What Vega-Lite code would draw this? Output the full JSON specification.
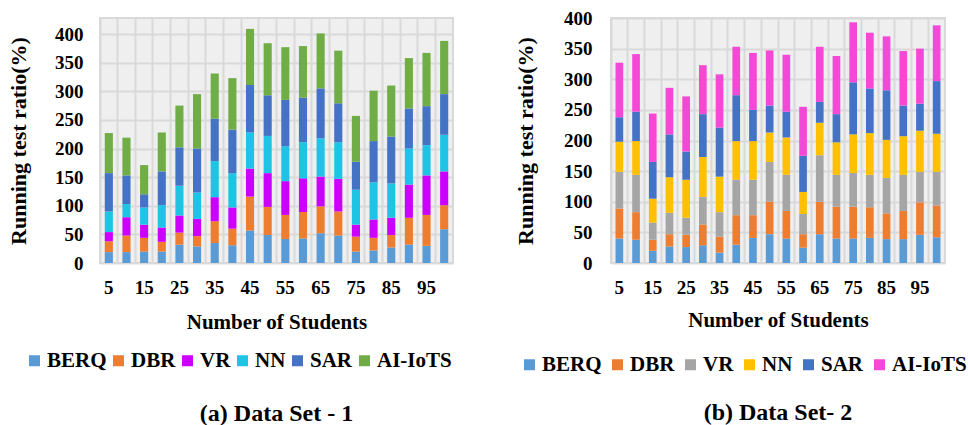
{
"$schema": "https://vega.github.io/schema/vega-lite/v6.json",
"padding": {"left": 6, "top": 8, "right": 0, "bottom": 0},
"background": "white",
"datasets": {
"d1": [
{"n":5,"s":"BERQ","v":19},{"n":5,"s":"DBR","v":19},{"n":5,"s":"VR","v":16},{"n":5,"s":"NN","v":36},{"n":5,"s":"SAR","v":67},{"n":5,"s":"AI-IoTS","v":70},
{"n":10,"s":"BERQ","v":19},{"n":10,"s":"DBR","v":29},{"n":10,"s":"VR","v":32},{"n":10,"s":"NN","v":23},{"n":10,"s":"SAR","v":50},{"n":10,"s":"AI-IoTS","v":66},
{"n":15,"s":"BERQ","v":20},{"n":15,"s":"DBR","v":24},{"n":15,"s":"VR","v":23},{"n":15,"s":"NN","v":30},{"n":15,"s":"SAR","v":23},{"n":15,"s":"AI-IoTS","v":51},
{"n":20,"s":"BERQ","v":20},{"n":20,"s":"DBR","v":17},{"n":20,"s":"VR","v":25},{"n":20,"s":"NN","v":39},{"n":20,"s":"SAR","v":59},{"n":20,"s":"AI-IoTS","v":68},
{"n":25,"s":"BERQ","v":32},{"n":25,"s":"DBR","v":21},{"n":25,"s":"VR","v":30},{"n":25,"s":"NN","v":52},{"n":25,"s":"SAR","v":67},{"n":25,"s":"AI-IoTS","v":73},
{"n":30,"s":"BERQ","v":29},{"n":30,"s":"DBR","v":18},{"n":30,"s":"VR","v":30},{"n":30,"s":"NN","v":46},{"n":30,"s":"SAR","v":77},{"n":30,"s":"AI-IoTS","v":95},
{"n":35,"s":"BERQ","v":35},{"n":35,"s":"DBR","v":38},{"n":35,"s":"VR","v":42},{"n":35,"s":"NN","v":63},{"n":35,"s":"SAR","v":74},{"n":35,"s":"AI-IoTS","v":79},
{"n":40,"s":"BERQ","v":31},{"n":40,"s":"DBR","v":29},{"n":40,"s":"VR","v":37},{"n":40,"s":"NN","v":60},{"n":40,"s":"SAR","v":76},{"n":40,"s":"AI-IoTS","v":90},
{"n":45,"s":"BERQ","v":57},{"n":45,"s":"DBR","v":59},{"n":45,"s":"VR","v":49},{"n":45,"s":"NN","v":63},{"n":45,"s":"SAR","v":83},{"n":45,"s":"AI-IoTS","v":98},
{"n":50,"s":"BERQ","v":49},{"n":50,"s":"DBR","v":49},{"n":50,"s":"VR","v":59},{"n":50,"s":"NN","v":65},{"n":50,"s":"SAR","v":71},{"n":50,"s":"AI-IoTS","v":91},
{"n":55,"s":"BERQ","v":42},{"n":55,"s":"DBR","v":42},{"n":55,"s":"VR","v":59},{"n":55,"s":"NN","v":61},{"n":55,"s":"SAR","v":81},{"n":55,"s":"AI-IoTS","v":92},
{"n":60,"s":"BERQ","v":43},{"n":60,"s":"DBR","v":46},{"n":60,"s":"VR","v":59},{"n":60,"s":"NN","v":63},{"n":60,"s":"SAR","v":78},{"n":60,"s":"AI-IoTS","v":90},
{"n":65,"s":"BERQ","v":52},{"n":65,"s":"DBR","v":47},{"n":65,"s":"VR","v":52},{"n":65,"s":"NN","v":67},{"n":65,"s":"SAR","v":87},{"n":65,"s":"AI-IoTS","v":96},
{"n":70,"s":"BERQ","v":48},{"n":70,"s":"DBR","v":42},{"n":70,"s":"VR","v":57},{"n":70,"s":"NN","v":64},{"n":70,"s":"SAR","v":68},{"n":70,"s":"AI-IoTS","v":92},
{"n":75,"s":"BERQ","v":20},{"n":75,"s":"DBR","v":26},{"n":75,"s":"VR","v":21},{"n":75,"s":"NN","v":61},{"n":75,"s":"SAR","v":49},{"n":75,"s":"AI-IoTS","v":80},
{"n":80,"s":"BERQ","v":22},{"n":80,"s":"DBR","v":22},{"n":80,"s":"VR","v":32},{"n":80,"s":"NN","v":65},{"n":80,"s":"SAR","v":72},{"n":80,"s":"AI-IoTS","v":88},
{"n":85,"s":"BERQ","v":27},{"n":85,"s":"DBR","v":22},{"n":85,"s":"VR","v":30},{"n":85,"s":"NN","v":60},{"n":85,"s":"SAR","v":82},{"n":85,"s":"AI-IoTS","v":89},
{"n":90,"s":"BERQ","v":32},{"n":90,"s":"DBR","v":47},{"n":90,"s":"VR","v":58},{"n":90,"s":"NN","v":63},{"n":90,"s":"SAR","v":70},{"n":90,"s":"AI-IoTS","v":88},
{"n":95,"s":"BERQ","v":30},{"n":95,"s":"DBR","v":54},{"n":95,"s":"VR","v":69},{"n":95,"s":"NN","v":53},{"n":95,"s":"SAR","v":68},{"n":95,"s":"AI-IoTS","v":93},
{"n":100,"s":"BERQ","v":59},{"n":100,"s":"DBR","v":42},{"n":100,"s":"VR","v":59},{"n":100,"s":"NN","v":64},{"n":100,"s":"SAR","v":71},{"n":100,"s":"AI-IoTS","v":93}
],
"d2": [
{"n":5,"s":"BERQ","v":40},{"n":5,"s":"DBR","v":49},{"n":5,"s":"VR","v":60},{"n":5,"s":"NN","v":49},{"n":5,"s":"SAR","v":40},{"n":5,"s":"AI-IoTS","v":89},
{"n":10,"s":"BERQ","v":38},{"n":10,"s":"DBR","v":45},{"n":10,"s":"VR","v":61},{"n":10,"s":"NN","v":55},{"n":10,"s":"SAR","v":48},{"n":10,"s":"AI-IoTS","v":94},
{"n":15,"s":"BERQ","v":20},{"n":15,"s":"DBR","v":18},{"n":15,"s":"VR","v":28},{"n":15,"s":"NN","v":39},{"n":15,"s":"SAR","v":60},{"n":15,"s":"AI-IoTS","v":79},
{"n":20,"s":"BERQ","v":27},{"n":20,"s":"DBR","v":20},{"n":20,"s":"VR","v":35},{"n":20,"s":"NN","v":58},{"n":20,"s":"SAR","v":70},{"n":20,"s":"AI-IoTS","v":76},
{"n":25,"s":"BERQ","v":26},{"n":25,"s":"DBR","v":20},{"n":25,"s":"VR","v":28},{"n":25,"s":"NN","v":62},{"n":25,"s":"SAR","v":46},{"n":25,"s":"AI-IoTS","v":90},
{"n":30,"s":"BERQ","v":29},{"n":30,"s":"DBR","v":34},{"n":30,"s":"VR","v":45},{"n":30,"s":"NN","v":65},{"n":30,"s":"SAR","v":70},{"n":30,"s":"AI-IoTS","v":80},
{"n":35,"s":"BERQ","v":17},{"n":35,"s":"DBR","v":26},{"n":35,"s":"VR","v":40},{"n":35,"s":"NN","v":58},{"n":35,"s":"SAR","v":80},{"n":35,"s":"AI-IoTS","v":87},
{"n":40,"s":"BERQ","v":30},{"n":40,"s":"DBR","v":48},{"n":40,"s":"VR","v":58},{"n":40,"s":"NN","v":63},{"n":40,"s":"SAR","v":75},{"n":40,"s":"AI-IoTS","v":79},
{"n":45,"s":"BERQ","v":41},{"n":45,"s":"DBR","v":37},{"n":45,"s":"VR","v":58},{"n":45,"s":"NN","v":63},{"n":45,"s":"SAR","v":51},{"n":45,"s":"AI-IoTS","v":93},
{"n":50,"s":"BERQ","v":47},{"n":50,"s":"DBR","v":53},{"n":50,"s":"VR","v":65},{"n":50,"s":"NN","v":48},{"n":50,"s":"SAR","v":44},{"n":50,"s":"AI-IoTS","v":90},
{"n":55,"s":"BERQ","v":40},{"n":55,"s":"DBR","v":45},{"n":55,"s":"VR","v":59},{"n":55,"s":"NN","v":61},{"n":55,"s":"SAR","v":42},{"n":55,"s":"AI-IoTS","v":93},
{"n":60,"s":"BERQ","v":25},{"n":60,"s":"DBR","v":22},{"n":60,"s":"VR","v":33},{"n":60,"s":"NN","v":36},{"n":60,"s":"SAR","v":59},{"n":60,"s":"AI-IoTS","v":80},
{"n":65,"s":"BERQ","v":47},{"n":65,"s":"DBR","v":53},{"n":65,"s":"VR","v":76},{"n":65,"s":"NN","v":53},{"n":65,"s":"SAR","v":34},{"n":65,"s":"AI-IoTS","v":90},
{"n":70,"s":"BERQ","v":40},{"n":70,"s":"DBR","v":52},{"n":70,"s":"VR","v":52},{"n":70,"s":"NN","v":53},{"n":70,"s":"SAR","v":46},{"n":70,"s":"AI-IoTS","v":95},
{"n":75,"s":"BERQ","v":40},{"n":75,"s":"DBR","v":52},{"n":75,"s":"VR","v":55},{"n":75,"s":"NN","v":63},{"n":75,"s":"SAR","v":85},{"n":75,"s":"AI-IoTS","v":98},
{"n":80,"s":"BERQ","v":41},{"n":80,"s":"DBR","v":50},{"n":80,"s":"VR","v":53},{"n":80,"s":"NN","v":68},{"n":80,"s":"SAR","v":73},{"n":80,"s":"AI-IoTS","v":91},
{"n":85,"s":"BERQ","v":39},{"n":85,"s":"DBR","v":42},{"n":85,"s":"VR","v":58},{"n":85,"s":"NN","v":62},{"n":85,"s":"SAR","v":81},{"n":85,"s":"AI-IoTS","v":88},
{"n":90,"s":"BERQ","v":39},{"n":90,"s":"DBR","v":46},{"n":90,"s":"VR","v":59},{"n":90,"s":"NN","v":63},{"n":90,"s":"SAR","v":50},{"n":90,"s":"AI-IoTS","v":89},
{"n":95,"s":"BERQ","v":46},{"n":95,"s":"DBR","v":53},{"n":95,"s":"VR","v":50},{"n":95,"s":"NN","v":67},{"n":95,"s":"SAR","v":44},{"n":95,"s":"AI-IoTS","v":90},
{"n":100,"s":"BERQ","v":42},{"n":100,"s":"DBR","v":52},{"n":100,"s":"VR","v":55},{"n":100,"s":"NN","v":62},{"n":100,"s":"SAR","v":86},{"n":100,"s":"AI-IoTS","v":91}
]
},
"config": {
  "font": "Liberation Serif, Times New Roman, serif",
  "view": {"fill": "#efefef", "stroke": "#d9d9d9", "strokeWidth": 2},
  "axis": {
    "labelFont": "Liberation Serif, Times New Roman, serif", "labelFontWeight": "bold", "labelFontSize": 19, "labelColor": "#000000",
    "titleFont": "Liberation Serif, Times New Roman, serif", "titleFontWeight": "bold", "titleFontSize": 21, "titleColor": "#000000",
    "domain": false, "ticks": false, "gridColor": "#d9d9d9", "gridWidth": 2
  },
  "axisY": {"titleFontSize": 22},
  "legend": {
    "labelFont": "Liberation Serif, Times New Roman, serif", "labelFontWeight": "bold", "labelFontSize": 21, "labelColor": "#000000",
    "symbolType": "square", "symbolSize": 121, "symbolStrokeWidth": 0, "symbolOpacity": 1,
    "labelOffset": 2, "columnPadding": 1, "direction": "horizontal", "columns": 6, "orient": "none", "padding": 0
  },
  "title": {"font": "Liberation Serif, Times New Roman, serif", "fontWeight": "bold", "fontSize": 24, "color": "#000000", "orient": "bottom", "anchor": "middle", "offset": 31}
},
"bounds": "flush",
"spacing": 158,
"resolve": {"scale": {"color": "independent"}},
"hconcat": [
  {
    "width": 353, "height": 245,
    "data": {"name": "d1"},
    "transform": [{"window": [{"op": "row_number", "as": "k"}], "groupby": ["n"]}],
    "title": {"text": "(a) Data Set - 1"},
    "mark": {"type": "bar", "width": {"band": 0.46}},
    "encoding": {
      "x": {"field": "n", "type": "ordinal", "scale": {"paddingInner": 0, "paddingOuter": 0},
            "axis": {"labelAngle": 0, "labelExpr": "datum.value % 10 == 5 ? datum.label : ''", "grid": true, "bandPosition": 0,
                     "title": "Number of Students", "labelPadding": 15, "titlePadding": 14}},
      "y": {"field": "v", "type": "quantitative", "stack": "zero", "scale": {"domain": [0, 428], "nice": false},
            "axis": {"values": [0,50,100,150,200,250,300,350,400], "title": "Running test ratio(%)", "labelPadding": 17, "titlePadding": 24}},
      "color": {"field": "s", "type": "nominal",
                "scale": {"domain": ["BERQ","DBR","VR","NN","SAR","AI-IoTS"], "range": ["#5B9BD5","#ED7D31","#CC00FF","#1FC4E4","#4472C4","#70AD47"]},
                "legend": {"title": null, "legendX": -76, "legendY": 332}},
      "order": {"field": "k", "type": "quantitative"}
    }
  },
  {
    "width": 334, "height": 245,
    "data": {"name": "d2"},
    "transform": [{"window": [{"op": "row_number", "as": "k"}], "groupby": ["n"]}],
    "title": {"text": "(b) Data Set- 2", "offset": 26},
    "mark": {"type": "bar", "width": {"band": 0.46}},
    "encoding": {
      "x": {"field": "n", "type": "ordinal", "scale": {"paddingInner": 0, "paddingOuter": 0},
            "axis": {"labelAngle": 0, "labelExpr": "datum.value % 10 == 5 ? datum.label : ''", "grid": true, "bandPosition": 0,
                     "title": "Number of Students", "labelPadding": 15, "titlePadding": 12}},
      "y": {"field": "v", "type": "quantitative", "stack": "zero", "scale": {"domain": [0, 400], "nice": false},
            "axis": {"values": [0,50,100,150,200,250,300,350,400], "title": "Running test ratio(%)", "labelPadding": 19, "titlePadding": 26}},
      "color": {"field": "s", "type": "nominal",
                "scale": {"domain": ["BERQ","DBR","VR","NN","SAR","AI-IoTS"], "range": ["#5B9BD5","#ED7D31","#A5A5A5","#FFC000","#4472C4","#F548D6"]},
                "legend": {"title": null, "legendX": -92, "legendY": 336, "columnPadding": 5}},
      "order": {"field": "k", "type": "quantitative"}
    }
  }
]
}
